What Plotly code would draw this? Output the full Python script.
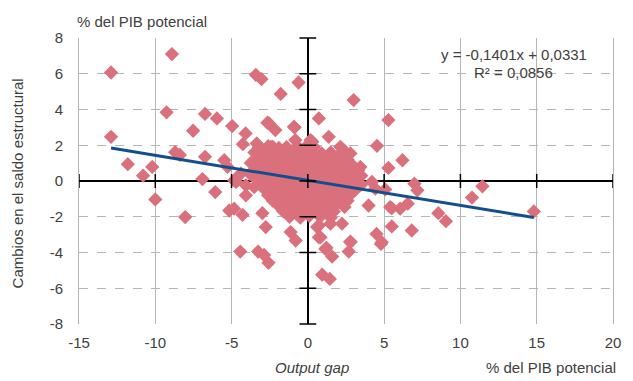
import plotly.graph_objects as go

# Isolated / outer observations (output gap, change in structural balance)
outer_x = [-12.9, -8.91, -12.9, -9.26, -6.74, -5.96, -4.96, -7.52, -11.8, -10.2, -10.8,
           -8.7, -8.39, -6.74, -6.91, -5.48, -5.26, -3.41, -3.04, -1.78, -0.61, -2.65,
           -2.13, -0.87, -0.82, -4.08, -4.26, -3.35, -3.74, -3.09, -2.30, -4.7, -4.39,
           3.0, 0.72, 5.28, 4.53, 5.28, 6.2, 1.37, 0.18, 2.35, 6.98, 11.44, 10.76, 14.81,
           7.18, 8.55, 9.05, 6.55, 6.05, 5.5, 5.5, 6.81, 4.5, 4.79, 4.42, 5.07, 3.98,
           2.79, 2.68, 2.24, 0.72, 0.72, 1.22, 1.59, 0.94, 1.44, 1.48, 0.39,
           -10.0, -8.04, -6.07, -5.15, -4.28, -4.43, -3.26, -2.87, -2.58, -2.76, -2.98,
           -0.80, -1.13, -4.83, -4.06, -4.06, -3.52, -2.54, -0.91, -2.43, -0.48, -1.34,
           -2.0, 0.29, 2.13, 2.79, 3.44, 3.22, 4.2, 5.4, 0.61, 0.83, 4.85, 2.79, 1.15,
           -1.78, 0.18, -4.83]
outer_y = [6.07, 7.10, 2.47, 3.84, 3.75, 3.5, 3.07, 2.81, 0.94, 0.79, 0.30,
           1.61, 1.46, 1.35, 0.11, 1.16, 0.79, 5.94, 5.70, 4.87, 5.51, 3.26,
           2.85, 3.0, 2.29, 2.66, 2.06, 2.10, 1.01, 1.35, 1.91, -0.05, 0.42,
           4.53, 3.5, 3.41, 1.97, 0.73, 1.16, 2.47, 2.29, 1.72, -0.15, -0.3, -0.93, -1.70,
           -0.52, -1.8, -2.25, -1.27, -1.55, -1.52, -2.54, -2.77, -2.96, -3.52, -0.43, -0.47, -1.37,
           -3.39, -3.95, -2.39, -2.49, -3.15, -3.74, -4.23, -5.24, -5.48, -2.39, -1.65,
           -1.03, -2.02, -0.62, -1.65, -1.89, -3.95, -3.95, -4.14, -4.58, -2.58, -1.8,
           -3.33, -2.86, 0.04, -0.24, -0.8, -0.34, 3.22, 3.03, 1.91, 1.63, 1.54,
           1.35, 2.19, 1.91, 1.54, 0.79, 0.13, -0.05, -1.46, -2.58, -3.15, -3.43, -3.43, -3.8,
           -1.27, -1.65, -1.55]

# Dense central cluster observations
core_x = [-3.2, -2.6, -1.9, -1.4, -0.7, -0.2, 0.4,
          -3.5, -2.9, -2.3, -1.6, -1.0, -0.4, 0.2, 0.9, 1.5, 2.1,
          -3.3, -2.7, -2.0, -1.5, -0.9, -0.3, 0.3, 0.8, 1.4, 2.0, 2.6,
          -3.6, -3.0, -2.4, -1.8, -1.2, -0.6, 0.0, 0.5, 1.1, 1.7, 2.3, 2.9,
          -3.3, -2.7, -2.1, -1.5, -0.9, -0.3, 0.3, 0.9, 1.5, 2.1, 2.7, 3.3,
          -3.8, -3.0, -2.4, -1.8, -1.2, -0.6, 0.1, 0.6, 1.2, 1.8, 2.4, 3.0, 3.5,
          -3.4, -2.8, -2.1, -1.5, -0.9, -0.3, 0.3, 0.9, 1.5, 2.1, 2.7, 3.2,
          -3.1, -2.5, -1.9, -1.3, -0.7, -0.1, 0.5, 1.1, 1.7, 2.3, 2.9, 3.5,
          -2.8, -2.2, -1.6, -1.0, -0.4, 0.2, 0.8, 1.4, 2.0, 2.6, 3.1,
          -2.6, -1.9, -1.3, -0.7, -0.1, 0.5, 1.1, 1.7, 2.3, 2.8,
          -2.3, -1.6, -1.0, -0.4, 0.2, 0.8, 1.4, 2.0, 2.6,
          -1.9, -1.3, -0.7, -0.1, 0.6, 1.2, 1.8, 2.4,
          -1.6, -0.9, -0.3, 0.4, 1.0, 1.7,
          -1.2, -0.5, 0.1, 0.8, 1.5]
core_y = [1.9, 1.95, 1.85, 1.9, 1.95, 1.85, 1.9,
          1.6, 1.55, 1.65, 1.6, 1.55, 1.6, 1.65, 1.55, 1.6, 1.5,
          1.3, 1.25, 1.35, 1.3, 1.25, 1.3, 1.35, 1.25, 1.3, 1.35, 1.2,
          1.0, 0.95, 1.05, 1.0, 0.95, 1.0, 1.05, 0.95, 1.0, 1.05, 0.95, 0.9,
          0.7, 0.65, 0.75, 0.7, 0.65, 0.7, 0.75, 0.65, 0.7, 0.75, 0.65, 0.6,
          0.4, 0.35, 0.45, 0.4, 0.35, 0.4, 0.45, 0.35, 0.4, 0.45, 0.35, 0.4, 0.3,
          0.1, 0.05, 0.15, 0.1, 0.05, 0.1, 0.15, 0.05, 0.1, 0.15, 0.05, 0.1,
          -0.2, -0.25, -0.15, -0.2, -0.25, -0.2, -0.15, -0.25, -0.2, -0.15, -0.25, -0.2,
          -0.5, -0.55, -0.45, -0.5, -0.55, -0.5, -0.45, -0.55, -0.5, -0.45, -0.5,
          -0.8, -0.85, -0.75, -0.8, -0.85, -0.8, -0.75, -0.85, -0.8, -0.75,
          -1.1, -1.15, -1.05, -1.1, -1.15, -1.1, -1.05, -1.15, -1.1,
          -1.4, -1.45, -1.35, -1.4, -1.45, -1.4, -1.35, -1.45,
          -1.7, -1.75, -1.65, -1.7, -1.75, -1.7,
          -2.0, -2.05, -1.95, -2.0, -2.05]

all_x = outer_x + core_x
all_y = outer_y + core_y

# Trend line coefficients (as printed on the chart)
slope = -0.1401
intercept = 0.0331
r2 = 0.0856

x_ticks = [-15, -10, -5, 0, 5, 10, 15, 20]
x_tick_labels = ["-15", "-10", "-5", "0", "5", "10", "15", "20"]
y_ticks = [-8, -6, -4, -2, 0, 2, 4, 6, 8]
y_tick_labels = ["-8", "-6", "-4", "-2", "0", "2", "4", "6", "8"]

FONT = "Liberation Sans, Arial, sans-serif"
TXT = "#404040"
POINT = "#d9707c"
LINE = "#144f8c"
FS = 15

fig = go.Figure()

fig.add_trace(go.Scatter(
    x=all_x, y=all_y, mode="markers",
    marker=dict(symbol="diamond", size=11, color=POINT, line=dict(width=0)),
    hoverinfo="skip", showlegend=False))

x0, x1 = min(all_x), max(all_x)
fig.add_trace(go.Scatter(
    x=[x0, x1], y=[slope * x0 + intercept, slope * x1 + intercept],
    mode="lines", line=dict(color=LINE, width=3),
    hoverinfo="skip", showlegend=False))

# Crossing tick marks on the zero axes
fig.add_trace(go.Scatter(
    x=[0] * len(y_ticks), y=y_ticks, mode="markers",
    marker=dict(symbol="line-ew", size=12, line=dict(color="black", width=1.5)),
    hoverinfo="skip", showlegend=False, cliponaxis=False))
fig.add_trace(go.Scatter(
    x=x_ticks, y=[0] * len(x_ticks), mode="markers",
    marker=dict(symbol="line-ns", size=10, line=dict(color="black", width=1.5)),
    hoverinfo="skip", showlegend=False, cliponaxis=False))

fig.update_xaxes(
    range=[-15, 20], tickvals=x_ticks, ticktext=x_tick_labels,
    showgrid=True, gridcolor="#b5b5b5", gridwidth=1,
    zeroline=True, zerolinecolor="black", zerolinewidth=2,
    showline=False, ticks="outside", ticklen=5, tickcolor="rgba(0,0,0,0)",
    tickfont=dict(family=FONT, size=FS, color=TXT), fixedrange=True)
fig.update_yaxes(
    range=[-8, 8], tickvals=y_ticks, ticktext=y_tick_labels,
    showgrid=True, gridcolor="#b5b5b5", gridwidth=1, griddash="dash",
    zeroline=True, zerolinecolor="black", zerolinewidth=2,
    showline=True, linecolor="#b5b5b5", linewidth=1, mirror=True,
    ticks="outside", ticklen=12, tickcolor="rgba(0,0,0,0)",
    tickfont=dict(family=FONT, size=FS, color=TXT), fixedrange=True)

annotations = [
    dict(text="% del PIB potencial", xref="paper", yref="paper", x=-0.008, y=1.0,
         xanchor="left", yanchor="bottom", yshift=6, showarrow=False,
         font=dict(family=FONT, size=FS, color=TXT)),
    dict(text="<i>Output gap</i>", xref="x", yref="paper", x=0.3, y=0,
         xanchor="center", yanchor="top", yshift=-33, showarrow=False,
         font=dict(family=FONT, size=FS, color=TXT)),
    dict(text="% del PIB potencial", xref="paper", yref="paper", x=1.01, y=0,
         xanchor="right", yanchor="top", yshift=-33, showarrow=False,
         font=dict(family=FONT, size=FS, color=TXT)),
    dict(text="Cambios en el saldo estructural", xref="paper", yref="paper",
         x=-0.115, y=0.49, xanchor="center", yanchor="middle", textangle=-90,
         showarrow=False, font=dict(family=FONT, size=FS, color=TXT)),
    dict(text="y = -0,1401x + 0,0331", xref="x", yref="y", x=13.5, y=7.06,
         xanchor="center", yanchor="middle", showarrow=False,
         font=dict(family=FONT, size=FS, color=TXT)),
    dict(text="R² = 0,0856", xref="x", yref="y", x=13.5, y=6.07,
         xanchor="center", yanchor="middle", showarrow=False,
         font=dict(family=FONT, size=FS, color=TXT)),
]

fig.update_layout(
    width=633, height=381,
    margin=dict(l=79, r=20, t=38, b=57),
    paper_bgcolor="white", plot_bgcolor="white",
    showlegend=False, annotations=annotations)

fig.write_html("out.html", config={"displayModeBar": False},
               post_script="document.body.style.margin='0';document.body.style.overflow='hidden';")
